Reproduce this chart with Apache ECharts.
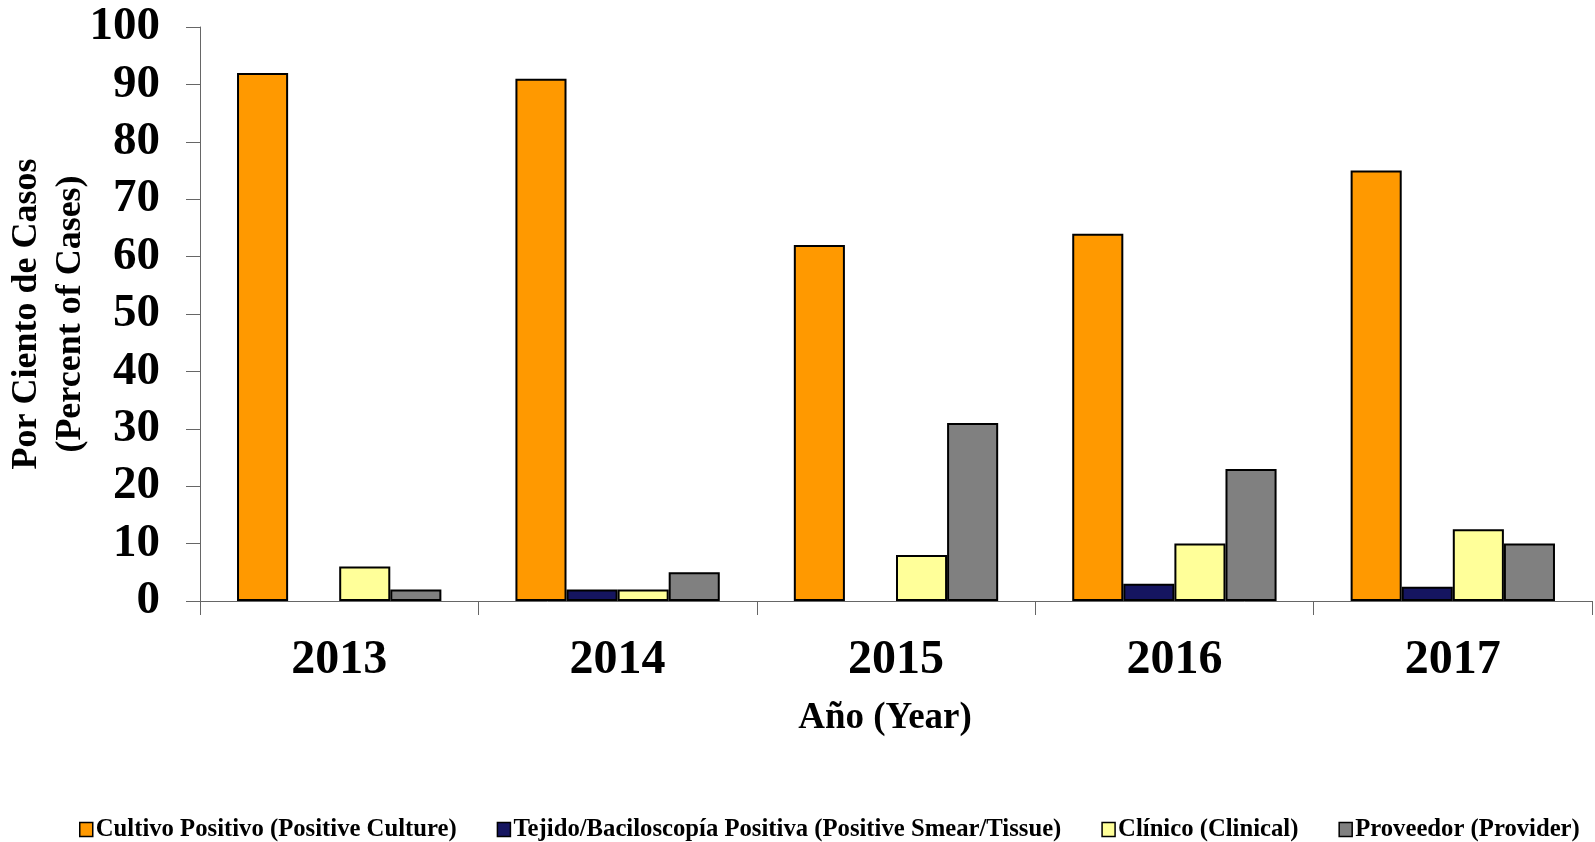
<!DOCTYPE html>
<html>
<head>
<meta charset="utf-8">
<script src="https://cdn.jsdelivr.net/npm/echarts@6/dist/echarts.min.js"></script>
<style>
  html, body { margin: 0; padding: 0; background: #fff; }
  #chart { width: 1595px; height: 842px; }
</style>
</head>
<body>
<div id="chart"></div>
<script>
const years = ['2013', '2014', '2015', '2016', '2017']
const seriesNames = [
  'Cultivo Positivo (Positive Culture)',
  'Tejido/Baciloscopía Positiva (Positive Smear/Tissue)',
  'Clínico (Clinical)',
  'Proveedor (Provider)'
]
// null = no bar drawn in the reference
const cultivo = [92, 91, 62, 64, 75]
const tejido = [null, 2, null, 3, 2.5]
const clinico = [6, 2, 8, 10, 12.5]
const proveedor = [2, 5, 31, 23, 10]
const yTicks = [0, 10, 20, 30, 40, 50, 60, 70, 80, 90, 100]

const colors = ['#FF9900', '#151560', '#FFFF99', '#808080']
const font = '"Liberation Serif", "Times New Roman", serif'

const chart = echarts.init(document.getElementById('chart'))

const makeSeries = (name, data, i) => ({
  name,
  type: 'bar',
  data,
  barGap: '0%',
  barCategoryGap: '26.6%',
  itemStyle: { color: colors[i], borderColor: '#000', borderWidth: 2 },
  emphasis: { disabled: true }
})

chart.setOption({
  animation: false,
  textStyle: { fontFamily: font },
  grid: { left: 200, right: 3, top: 27, bottom: 241, containLabel: false, outerBoundsMode: 'none' },
  legend: {
    left: 74,
    top: 812,
    itemWidth: 13,
    itemHeight: 14,
    itemGap: 40,
    icon: 'rect',
    itemStyle: { borderColor: '#000', borderWidth: 1.5 },
    textStyle: { fontFamily: font, fontWeight: 'bold', fontSize: 24.7, color: '#000', padding: [0, 0, 0, -2] },
    data: seriesNames
  },
  xAxis: {
    type: 'category',
    data: years,
    name: 'Año (Year)',
    nameLocation: 'middle',
    nameGap: 99,
    nameMoveOverlap: false,
    nameTextStyle: { fontFamily: font, fontWeight: 'bold', fontSize: 37, color: '#000', padding: [0, 22, 0, 0] },
    axisLine: { lineStyle: { color: '#666', width: 1 } },
    axisTick: { show: true, length: 14, lineStyle: { color: '#666' } },
    axisLabel: { margin: 36, fontFamily: font, fontWeight: 'bold', fontSize: 48, color: '#000' }
  },
  yAxis: {
    type: 'value',
    min: yTicks[0],
    max: yTicks[yTicks.length - 1],
    interval: 10,
    name: 'Por Ciento de Casos\n(Percent of Cases)',
    nameLocation: 'middle',
    nameGap: 107,
    nameMoveOverlap: false,
    nameTextStyle: { fontFamily: font, fontWeight: 'bold', fontSize: 36, color: '#000', lineHeight: 44 },
    splitLine: { show: false },
    axisLine: { show: true, lineStyle: { color: '#666', width: 1 } },
    axisTick: { show: true, length: 14, lineStyle: { color: '#666' } },
    axisLabel: { margin: 40, fontFamily: font, fontWeight: 'bold', fontSize: 47, color: '#000' }
  },
  series: [
    makeSeries(seriesNames[0], cultivo, 0),
    makeSeries(seriesNames[1], tejido, 1),
    makeSeries(seriesNames[2], clinico, 2),
    makeSeries(seriesNames[3], proveedor, 3)
  ]
})
</script>
</body>
</html>
